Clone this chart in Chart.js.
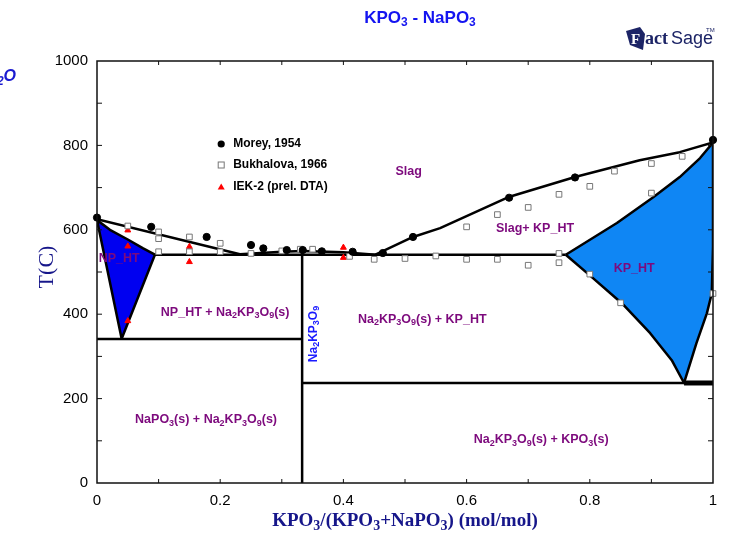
<!DOCTYPE html>
<html>
<head>
<meta charset="utf-8">
<script src="https://cdn.jsdelivr.net/npm/chart.js@4.4.0/dist/chart.umd.min.js"></script>
<style>
  body { margin: 0; background: #fff; }
  #wrap { width: 742px; height: 541px; }
</style>
</head>
<body>
<div id="wrap"><canvas id="phase" width="742" height="541"></canvas></div>
<script>
// measured points: [x(KPO3), T(C)]
const morey = [[0, 629], [0.088, 607], [0.178, 583], [0.25, 564], [0.27, 556], [0.308, 552],
  [0.334, 552], [0.365, 549], [0.415, 548], [0.464, 545], [0.513, 583], [0.669, 676],
  [0.776, 724], [1.0, 813]];
const bukhalova = [[0.05, 609], [0.10, 595], [0.10, 579], [0.10, 548], [0.15, 583], [0.15, 548],
  [0.20, 568], [0.20, 548], [0.25, 544], [0.30, 550], [0.33, 554], [0.35, 554], [0.41, 537],
  [0.45, 530], [0.50, 532], [0.55, 538], [0.60, 530], [0.60, 607], [0.65, 636], [0.65, 530],
  [0.70, 653], [0.70, 516], [0.75, 684], [0.75, 544], [0.75, 522], [0.80, 703], [0.80, 495],
  [0.84, 739], [0.85, 427], [0.90, 757], [0.90, 687], [0.95, 774], [1.0, 449]];
const iek = [[0.05, 599], [0.05, 561], [0.05, 384], [0.15, 560], [0.15, 524], [0.40, 558], [0.40, 534]];

// calculated phase boundaries
const liqLeft = [[0, 625], [0.232, 542]];
const liqMid = [[0.232, 542], [0.30, 548], [0.334, 550], [0.40, 547], [0.452, 541]];
const liqRight = [[0.452, 541], [0.513, 583], [0.557, 604], [0.667, 677], [0.776, 725],
  [0.881, 765], [0.946, 784], [1.0, 807]];
const solidus = [[0.094, 541], [0.761, 541]];
const npLow = [[0, 341], [0.333, 341]];
const compound = [[0.333, 0], [0.333, 550]];
const kpLow = [[0.333, 237], [1, 237]];
const kpLowEnd = [[0.953, 237], [1, 237]];
const npHT = [[0, 623], [0.021, 600], [0.05, 577], [0.075, 556], [0.094, 541], [0.040, 342], [0, 623]];
const kpHT = [[0.761, 541], [0.80, 492], [0.852, 426], [0.898, 355], [0.933, 291], [0.953, 237],
  [0.973, 331], [0.99, 402], [0.998, 449], [1.0, 560], [1.0, 807], [0.979, 770], [0.946, 725],
  [0.903, 677], [0.844, 616], [0.761, 541]];

const xTicks = [0, 0.2, 0.4, 0.6, 0.8, 1];
const yTicks = [0, 200, 400, 600, 800, 1000];

// region names placed at [x, T]; "_n" is a subscript digit
const regionLabels = [
  ['Slag', 0.506, 739],
  ['Slag+ KP_HT', 0.711, 604],
  ['KP_HT', 0.872, 509],
  ['NP_HT', 0.036, 533],
  ['NP_HT + Na_2KP_3O_9(s)', 0.208, 405],
  ['Na_2KP_3O_9(s) + KP_HT', 0.528, 388],
  ['NaPO_3(s) + Na_2KP_3O_9(s)', 0.177, 150],
  ['Na_2KP_3O_9(s) + KPO_3(s)', 0.721, 102]
];

const PURPLE = '#7d0a7d';
const NAVY = '#16168a';
const SANS = '"Liberation Sans", Arial, sans-serif';
const SERIF = '"Liberation Serif", "Times New Roman", serif';

function pts(a) { return a.map(p => ({ x: p[0], y: p[1] })); }

function line(a, w) {
  return { data: pts(a), showLine: true, borderColor: '#000', borderWidth: w || 2.5,
    borderJoinStyle: 'round', pointRadius: 0, fill: false, order: 1 };
}

function region(a, color) {
  return { data: pts(a), showLine: true, borderColor: '#000', borderWidth: 2.5,
    borderJoinStyle: 'round', backgroundColor: color, pointRadius: 0, fill: 'shape', order: 2 };
}

// text with "_n" subscripts, vertically centred on y
function richText(ctx, str, x, y, size, style, family, align) {
  const parts = str.split(/(_\d)/).filter(s => s).map(s =>
    s[0] === '_' ? { t: s.slice(1), sub: true } : { t: s, sub: false });
  const big = style + ' ' + size + 'px ' + family;
  const small = style + ' ' + Math.round(size * 0.72) + 'px ' + family;
  let w = 0;
  parts.forEach(p => { ctx.font = p.sub ? small : big; p.w = ctx.measureText(p.t).width; w += p.w; });
  let cx = align === 'center' ? x - w / 2 : align === 'right' ? x - w : x;
  ctx.textAlign = 'left';
  ctx.textBaseline = 'middle';
  parts.forEach(p => {
    ctx.font = p.sub ? small : big;
    ctx.fillText(p.t, cx, p.sub ? y + size * 0.3 : y);
    cx += p.w;
  });
}

const dataSets = [
  { label: 'Morey, 1954', data: pts(morey), pointStyle: 'circle', pointRadius: 3.6,
    backgroundColor: '#000', borderColor: '#000', borderWidth: 1, order: 0, clip: false },
  { label: 'Bukhalova, 1966', data: pts(bukhalova), pointStyle: 'rect', pointRadius: 4,
    backgroundColor: '#fff', borderColor: '#777', borderWidth: 1, order: 0, clip: false },
  { label: 'IEK-2 (prel. DTA)', data: pts(iek), pointStyle: 'triangle', pointRadius: 3.4,
    backgroundColor: '#f00', borderColor: '#f00', borderWidth: 1, order: 0, clip: false },
  line(liqLeft), line(liqMid), line(liqRight), line(solidus), line(npLow),
  line(compound), line(kpLow), line(kpLowEnd, 5),
  region(npHT, '#0000f0'),
  region(kpHT, '#0f86f4')
];

// frame, inner ticks, legend and all the text
const decor = {
  id: 'decor',
  afterDatasetsDraw(chart) {
    const { ctx, chartArea: a, scales: { x, y } } = chart;
    ctx.save();
    ctx.strokeStyle = '#111';
    ctx.lineWidth = 1.5;
    ctx.strokeRect(a.left, a.top, a.right - a.left, a.bottom - a.top);
    ctx.lineWidth = 1;
    ctx.beginPath();
    for (let i = 1; i < 10; i++) {
      const px = x.getPixelForValue(i / 10);
      ctx.moveTo(px, a.bottom); ctx.lineTo(px, a.bottom - 4);
      ctx.moveTo(px, a.top); ctx.lineTo(px, a.top + 4);
      const py = y.getPixelForValue(i * 100);
      ctx.moveTo(a.left, py); ctx.lineTo(a.left + 5, py);
      ctx.moveTo(a.right, py); ctx.lineTo(a.right - 5, py);
    }
    ctx.stroke();

    // legend
    const lx = x.getPixelForValue(0.2), ly = [144, 165, 187];
    ctx.fillStyle = '#000';
    ctx.beginPath(); ctx.arc(lx + 1, ly[0], 3.6, 0, Math.PI * 2); ctx.fill();
    ctx.fillStyle = '#fff'; ctx.strokeStyle = '#777';
    ctx.fillRect(lx - 2, ly[1] - 3, 6, 6); ctx.strokeRect(lx - 2, ly[1] - 3, 6, 6);
    ctx.fillStyle = '#f00';
    ctx.beginPath(); ctx.moveTo(lx + 1, ly[2] - 3.5); ctx.lineTo(lx + 4.5, ly[2] + 2.5);
    ctx.lineTo(lx - 2.5, ly[2] + 2.5); ctx.closePath(); ctx.fill();
    ctx.fillStyle = '#000';
    chart.data.datasets.slice(0, 3).forEach((d, i) =>
      richText(ctx, d.label, lx + 13, ly[i], 12, 'bold', SANS, 'left'));

    // region names
    ctx.fillStyle = PURPLE;
    regionLabels.forEach(r => {
      richText(ctx, r[0], x.getPixelForValue(r[1]), y.getPixelForValue(r[2]), 12.5, 'bold', SANS, 'center');
    });
    ctx.save();
    ctx.translate(x.getPixelForValue(0.351), y.getPixelForValue(353));
    ctx.rotate(-Math.PI / 2);
    ctx.fillStyle = '#1a1aff';
    richText(ctx, 'Na_2KP_3O_9', 0, 0, 12, 'bold', SANS, 'center');
    ctx.restore();

    // title
    ctx.fillStyle = '#1414f0';
    richText(ctx, 'KPO_3 - NaPO_3', 420, 18, 17, 'bold', SANS, 'center');

    // clipped compound name at the top left
    ctx.fillStyle = '#1a1ad0';
    richText(ctx, 'Na_2O', 16, 77, 16, 'italic bold', SANS, 'right');

    // axis titles
    ctx.fillStyle = NAVY;
    richText(ctx, 'KPO_3/(KPO_3+NaPO_3) (mol/mol)', 405, 521, 19, 'bold', SERIF, 'center');
    ctx.save();
    ctx.translate(47, 267);
    ctx.rotate(-Math.PI / 2);
    richText(ctx, 'T(C)', 0, 0, 22, 'normal', SERIF, 'center');
    ctx.restore();

    // FactSage mark
    ctx.fillStyle = '#1c2466';
    ctx.beginPath();
    ctx.moveTo(626, 31); ctx.lineTo(640, 27); ctx.lineTo(645, 34);
    ctx.lineTo(643, 50); ctx.lineTo(630, 45); ctx.closePath(); ctx.fill();
    ctx.textBaseline = 'alphabetic';
    ctx.textAlign = 'left';
    ctx.fillStyle = '#fff';
    ctx.font = 'bold 15px ' + SERIF;
    ctx.fillText('F', 631, 44);
    ctx.fillStyle = '#1c2466';
    ctx.font = 'bold 18px ' + SERIF;
    ctx.fillText('act', 645, 44);
    ctx.font = '18px "Liberation Sans Narrow", "Liberation Sans", sans-serif';
    ctx.fillText('Sage', 671, 44);
    ctx.font = '6px ' + SANS;
    ctx.fillText('TM', 706, 32);
    ctx.restore();
  }
};

new Chart(document.getElementById('phase'), {
  type: 'scatter',
  data: { datasets: dataSets },
  options: {
    responsive: false,
    animation: false,
    layout: { padding: { top: 61, right: 29, left: 0, bottom: 0 } },
    plugins: { legend: { display: false }, tooltip: { enabled: false } },
    scales: {
      x: {
        type: 'linear', min: 0, max: 1,
        afterFit(s) { s.height = 58; },
        afterBuildTicks(s) { s.ticks = xTicks.map(v => ({ value: v })); },
        grid: { display: false, drawTicks: false },
        border: { display: false },
        ticks: { color: '#000', padding: 9, maxRotation: 0, callback: v => String(v),
          font: { family: SANS, size: 15 } }
      },
      y: {
        type: 'linear', min: 0, max: 1000,
        afterFit(s) { s.width = 97; },
        afterBuildTicks(s) { s.ticks = yTicks.map(v => ({ value: v })); },
        grid: { display: false, drawTicks: false },
        border: { display: false },
        ticks: { color: '#000', padding: 9, callback: v => String(v),
          font: { family: SANS, size: 15 } }
      }
    }
  },
  plugins: [decor]
});
</script>
</body>
</html>
